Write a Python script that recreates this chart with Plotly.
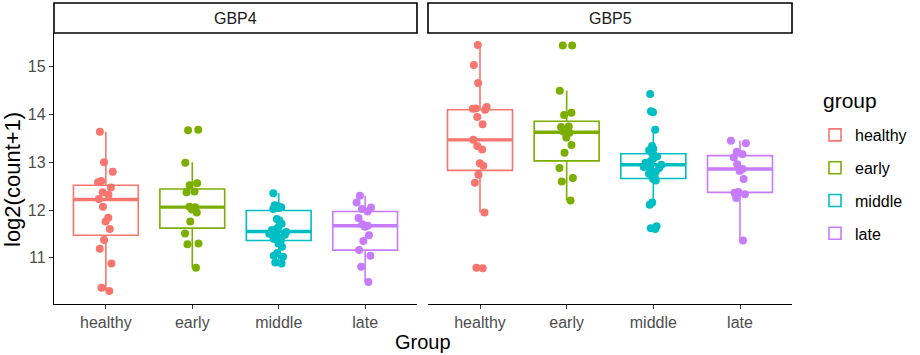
import plotly.graph_objects as go

# ---- data ----
groups = ["healthy", "early", "middle", "late"]
genes = ["GBP4", "GBP5"]
colors = ["#F8766D", "#7CAE00", "#00BFC4", "#C77CFF"]

gbp4_healthy = [13.64, 13.00, 12.80, 12.61, 12.58, 12.47, 12.37, 12.32, 12.23, 12.07, 11.84,
                11.76, 11.60, 11.37, 11.19, 10.88, 10.37, 10.30]
gbp4_early = [13.68, 13.67, 12.99, 12.56, 12.52, 12.39, 12.37, 12.07, 12.06, 12.01, 11.95,
              11.76, 11.51, 11.30, 11.28, 10.79]
gbp4_middle = [12.35, 12.10, 12.08, 12.06, 12.05, 12.04, 12.02, 11.81, 11.78, 11.71, 11.65,
               11.60, 11.58, 11.55, 11.54, 11.52, 11.50, 11.48, 11.45, 11.42, 11.40, 11.38,
               11.35, 11.30, 11.23, 11.10, 11.04, 11.02, 10.90, 10.88]
gbp4_late = [12.30, 12.16, 12.05, 12.02, 11.97, 11.83, 11.70, 11.67, 11.65, 11.47, 11.35,
             11.16, 11.04, 10.81, 10.49]

gbp5_healthy = [15.46, 15.04, 14.66, 14.16, 14.13, 14.12, 14.10, 13.95, 13.80, 13.47, 13.34,
                13.27, 12.98, 12.93, 12.74, 12.57, 11.95, 10.79, 10.78]
gbp5_early = [15.45, 15.45, 14.50, 14.04, 13.99, 13.75, 13.74, 13.64, 13.62, 13.52, 13.36,
              13.20, 12.88, 12.67, 12.60, 12.20]
gbp5_middle = [14.43, 14.07, 14.05, 13.68, 13.34, 13.28, 13.25, 13.20, 13.14, 13.12, 13.08,
               13.02, 12.99, 12.97, 12.95, 12.93, 12.90, 12.88, 12.86, 12.80, 12.76, 12.74,
               12.68, 12.65, 12.62, 12.16, 12.11, 11.66, 11.62, 11.60]
gbp5_late = [13.45, 13.40, 13.22, 13.17, 13.10, 12.96, 12.86, 12.82, 12.65, 12.38, 12.36,
             12.33, 12.25, 11.36]

# box statistics (order: healthy, early, middle, late)
gbp4_q1 = [11.47, 11.62, 11.36, 11.16]
gbp4_median = [12.22, 12.06, 11.55, 11.67]
gbp4_q3 = [12.52, 12.44, 11.99, 11.97]
gbp4_lower = [10.30, 10.79, 10.88, 10.49]
gbp4_upper = [13.64, 13.00, 12.35, 12.30]

gbp5_q1 = [12.83, 13.03, 12.66, 12.37]
gbp5_median = [13.47, 13.63, 12.95, 12.86]
gbp5_q3 = [14.10, 13.86, 13.18, 13.14]
gbp5_lower = [11.95, 12.20, 12.15, 11.36]
gbp5_upper = [15.46, 14.50, 13.68, 13.45]

y_ticks = [11, 12, 13, 14, 15]

points = {
    "GBP4": [gbp4_healthy, gbp4_early, gbp4_middle, gbp4_late],
    "GBP5": [gbp5_healthy, gbp5_early, gbp5_middle, gbp5_late],
}
stats = {
    "GBP4": (gbp4_q1, gbp4_median, gbp4_q3, gbp4_lower, gbp4_upper),
    "GBP5": (gbp5_q1, gbp5_median, gbp5_q3, gbp5_lower, gbp5_upper),
}

# ---- figure ----
W, H = 920, 355
FONT = "Liberation Sans, Arial, sans-serif"
fig = go.Figure()

panel_x = {"GBP4": (54, 417), "GBP5": (428, 792)}
axis_names = {"GBP4": ("x", "y"), "GBP5": ("x2", "y2")}
BOXW = 0.75

for gi, gene in enumerate(genes):
    xa, ya = axis_names[gene]
    q1, med, q3, lo, up = stats[gene]
    for k, grp in enumerate(groups):
        c = colors[k]
        # box outline + whiskers
        fig.add_trace(go.Box(
            x=[grp], q1=[q1[k]], median=[med[k]], q3=[q3[k]],
            lowerfence=[lo[k]], upperfence=[up[k]],
            boxpoints=False, width=BOXW, whiskerwidth=0,
            line=dict(color=c, width=1.6), fillcolor="white",
            name=grp, legendgroup=grp, showlegend=(gi == 0),
            xaxis=xa, yaxis=ya, hoverinfo="skip"))
        # thicker median bar (ggplot fatten)
        fig.add_trace(go.Box(
            x=[grp], q1=[med[k]], median=[med[k]], q3=[med[k]],
            lowerfence=[med[k]], upperfence=[med[k]],
            boxpoints=False, width=BOXW, whiskerwidth=0,
            line=dict(color=c, width=3.4), fillcolor="rgba(0,0,0,0)",
            legendgroup=grp, showlegend=False,
            xaxis=xa, yaxis=ya, hoverinfo="skip"))
        # jittered points
        vals = points[gene][k]
        fig.add_trace(go.Box(
            x=[grp] * len(vals), y=vals,
            boxpoints="all", jitter=0.3, pointpos=0, width=BOXW,
            line=dict(color="rgba(0,0,0,0)", width=0), fillcolor="rgba(0,0,0,0)",
            marker=dict(color=c, size=8, opacity=1),
            legendgroup=grp, showlegend=False,
            xaxis=xa, yaxis=ya))

ymin, ymax = 10.03, 15.71
ydom = (1 - 304 / H, 1 - 33 / H)

common_x = dict(
    type="category", categoryorder="array", categoryarray=groups,
    range=[-0.6, 3.6], showline=True, linecolor="black", linewidth=1.3,
    ticks="outside", ticklen=4, tickcolor="#333333", tickwidth=1.3,
    tickfont=dict(family=FONT, size=16, color="#4D4D4D"),
    showgrid=False, zeroline=False, automargin=False,
)
fig.update_layout(
    width=W, height=H,
    margin=dict(l=0, r=0, t=0, b=0, autoexpand=False),
    paper_bgcolor="white", plot_bgcolor="white",
    boxmode="overlay",
    font=dict(family=FONT, size=16, color="black"),
    xaxis=dict(common_x, domain=[panel_x["GBP4"][0] / W, panel_x["GBP4"][1] / W], anchor="y"),
    xaxis2=dict(common_x, domain=[panel_x["GBP5"][0] / W, panel_x["GBP5"][1] / W], anchor="y2"),
    yaxis=dict(
        range=[ymin, ymax], domain=list(ydom), tickvals=y_ticks, anchor="x",
        showline=True, linecolor="black", linewidth=1.3,
        ticks="outside", ticklen=4, tickcolor="#333333", tickwidth=1.3,
        tickfont=dict(family=FONT, size=16, color="#4D4D4D"),
        showgrid=False, zeroline=False, automargin=False),
    yaxis2=dict(
        range=[ymin, ymax], domain=list(ydom), matches="y", anchor="x2",
        showline=False, showticklabels=False, ticks="",
        showgrid=False, zeroline=False, automargin=False),
    legend=dict(
        font=dict(family=FONT, size=16),
        x=815 / W, y=1 - 118 / H, xanchor="left", yanchor="top",
        tracegroupgap=9, bgcolor="rgba(0,0,0,0)"),
    showlegend=True,
)

# facet strips
shapes = []
annotations = []
for gene in genes:
    x0, x1 = panel_x[gene]
    shapes.append(dict(type="rect", xref="paper", yref="paper",
                       x0=x0 / W, x1=x1 / W, y0=1 - 33 / H, y1=1 - 3 / H,
                       line=dict(color="black", width=1.6), fillcolor="white"))
    annotations.append(dict(text=gene, xref="paper", yref="paper",
                            x=(x0 + x1) / 2 / W, y=1 - 18 / H, showarrow=False,
                            xanchor="center", yanchor="middle",
                            font=dict(family=FONT, size=16, color="#1A1A1A")))
# axis titles
annotations.append(dict(text="Group", xref="paper", yref="paper",
                        x=423 / W, y=1 - 342 / H, showarrow=False,
                        xanchor="center", yanchor="middle",
                        font=dict(family=FONT, size=20, color="black")))
annotations.append(dict(text="log2(count+1)", xref="paper", yref="paper",
                        x=12 / W, y=1 - 180 / H, showarrow=False, textangle=-90,
                        xanchor="center", yanchor="middle",
                        font=dict(family=FONT, size=22, color="black")))
# legend title
annotations.append(dict(text="group", xref="paper", yref="paper",
                        x=821 / W, y=1 - 100 / H, showarrow=False,
                        xanchor="left", yanchor="middle",
                        font=dict(family=FONT, size=21, color="black")))
fig.update_layout(shapes=shapes, annotations=annotations)

fig.write_html("out.html",
               config={"displayModeBar": False},
               post_script="document.body.style.margin='0';document.body.style.overflow='hidden';")
